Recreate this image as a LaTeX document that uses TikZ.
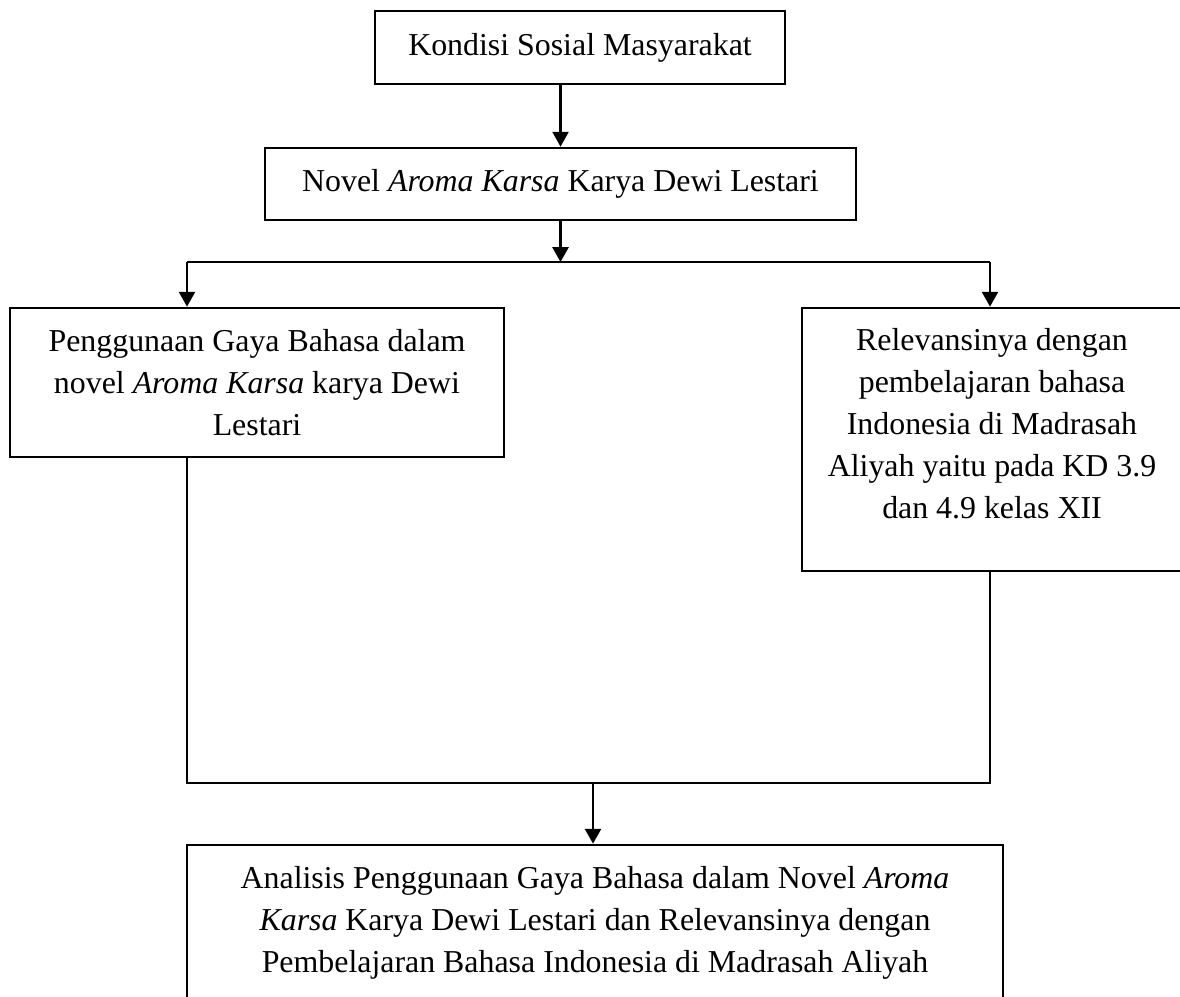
\documentclass[tikz,border=0pt]{standalone}
\usepackage{fontspec}
\setmainfont{Liberation Serif}
\usetikzlibrary{arrows.meta}
\newlength{\pxu}
\setlength{\pxu}{0.3765pt}

\begin{document}
\begin{tikzpicture}[x=\pxu,y=-\pxu,
		squarenode/.style={draw,rectangle,line width=1pt,align=center,inner sep=0pt,font=\fontsize{12}{15.8}\selectfont},
		arrowline/.style={line width=1pt,-{Triangle[length=5.6pt,width=6pt]}},
		plainline/.style={line width=1pt}]
		\useasboundingbox (0,0) rectangle (1180,996);

		\node[squarenode,minimum width=410\pxu,minimum height=73\pxu]		(kondisi)	at (580,47.5)	{Kondisi Sosial Masyarakat};
		\node[squarenode,minimum width=591\pxu,minimum height=72\pxu]		(novel)		at (560.5,184)	{Novel \textit{Aroma Karsa} Karya Dewi Lestari};
		\node[squarenode,minimum width=494\pxu,minimum height=149\pxu]		(gaya)		at (257,382.5)	{Penggunaan Gaya Bahasa dalam\\novel \textit{Aroma Karsa} karya Dewi\\Lestari};
		\node[squarenode,minimum width=380\pxu,minimum height=263\pxu,text width=135pt,align=flush center,text depth=75pt]	(relevansi)	at (992,439.5)	{Relevansinya dengan\\pembelajaran bahasa\\Indonesia di Madrasah\\Aliyah yaitu pada KD 3.9\\dan 4.9 kelas XII};
		\node[squarenode,minimum width=816\pxu,minimum height=155\pxu]		(analisis)	at (595,922.5)	{Analisis Penggunaan Gaya Bahasa dalam Novel \textit{Aroma}\\\textit{Karsa} Karya Dewi Lestari dan Relevansinya dengan\\Pembelajaran Bahasa Indonesia di Madrasah Aliyah};

		\coordinate (split)		at (560.5,262);
		\coordinate (lsplit)	at (187,262);
		\coordinate (rsplit)	at (990,262);
		\coordinate (lmerge)	at (187,783);
		\coordinate (rmerge)	at (990,783);
		\coordinate (merge)		at (593,783);

		\draw[arrowline] (kondisi.south -| novel.north) -- (novel.north);
		\draw[arrowline] (novel.south) -- (split);
		\draw[plainline] (lsplit) -- (rsplit);
		\draw[arrowline] (lsplit) -- (lsplit |- gaya.north);
		\draw[arrowline] (rsplit) -- (rsplit |- relevansi.north);
		\draw[plainline] (lsplit |- gaya.south) -- (lmerge) -- (rmerge) -- (rsplit |- relevansi.south);
		\draw[arrowline] (merge) -- (merge |- analisis.north);
	\end{tikzpicture}
\end{document}
